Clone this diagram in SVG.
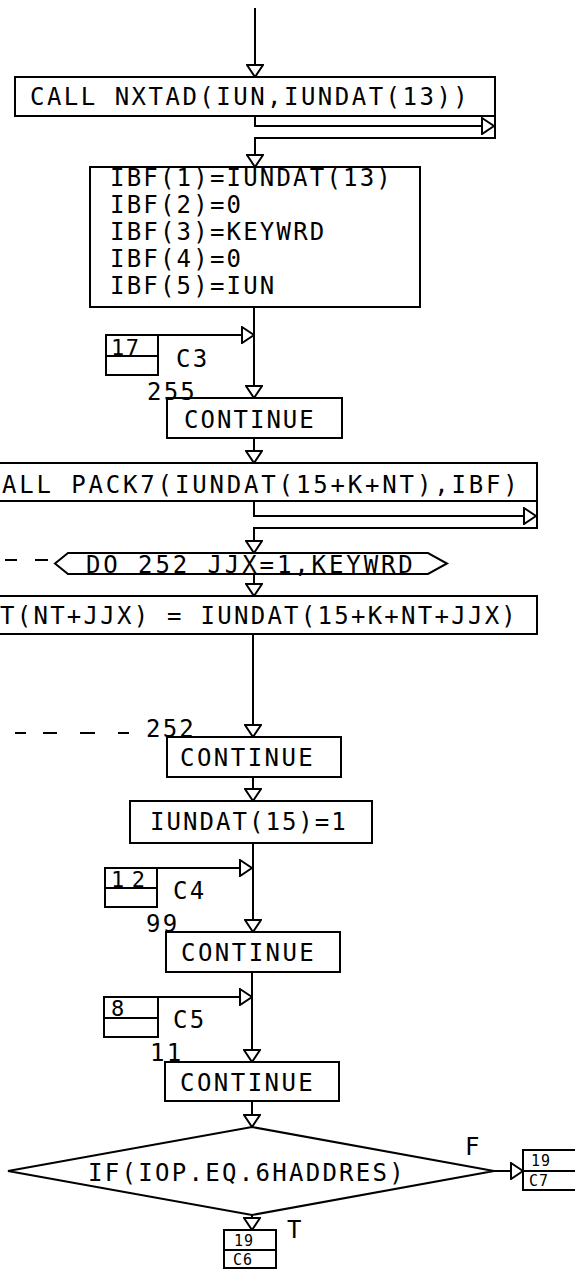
<svg xmlns="http://www.w3.org/2000/svg" width="575" height="1272" viewBox="0 0 575 1272">
<style>
.b{fill:#fff;stroke:#000;stroke-width:2}
.l{fill:none;stroke:#000;stroke-width:2}
.a{fill:none;stroke:#000;stroke-width:2;marker-end:url(#ah)}
.d{fill:none;stroke:#000;stroke-width:2}
text{font-family:"DejaVu Sans Mono","Liberation Mono",monospace;font-size:24px;fill:#000;letter-spacing:2.2px}
.s{font-size:22px;letter-spacing:2px}
.t{font-size:15px;letter-spacing:1px}
</style>
<defs>
<marker id="ah" viewBox="0 0 14 18" refX="13" refY="9" markerWidth="14" markerHeight="18" markerUnits="userSpaceOnUse" orient="auto">
<path d="M1,1 L13,9 L1,17 Z" fill="#fff" stroke="#000" stroke-width="2"/>
</marker>
</defs>
<rect width="575" height="1272" fill="#fff"/>
<g id="connectors">
<path class="a" d="M255,8 V77"/>
<path class="a" d="M255,116 V126 H494"/>
<path class="a" d="M495,116 V138 H255 V167"/>
<path class="a" d="M158,335 H254"/>
<path class="a" d="M254,307 V398"/>
<path class="a" d="M254,438 V463"/>
<path class="a" d="M254,501 V516 H536"/>
<path class="a" d="M537,501 V528 H254 V553"/>
<path class="d" d="M5,560 H17 M35,560 H48"/>
<path class="a" d="M254,574 V596"/>
<path class="a" d="M253,634 V737"/>
<path class="d" d="M15,733 H26 M43,733 H57 M80,733 H95 M118,733 H129"/>
<path class="a" d="M253,777 V801"/>
<path class="a" d="M157,868 H252"/>
<path class="a" d="M253,843 V932"/>
<path class="a" d="M158,997 H252"/>
<path class="a" d="M252,972 V1062"/>
<path class="a" d="M252,1101 V1127"/>
<path class="a" d="M494,1171 H523"/>
<path class="a" d="M252,1215 V1230"/>
</g>
<g id="n_nxtad">
<rect class="b" x="15" y="77" width="480" height="39"/>
<text x="30" y="105" textLength="440" lengthAdjust="spacing">CALL NXTAD(IUN,IUNDAT(13))</text>
</g>
<g id="n_ibf">
<rect class="b" x="90" y="167" width="330" height="140"/>
<text x="110" y="186" textLength="283" lengthAdjust="spacing">IBF(1)=IUNDAT(13)</text>
<text x="110" y="213">IBF(2)=0</text>
<text x="110" y="240">IBF(3)=KEYWRD</text>
<text x="110" y="267">IBF(4)=0</text>
<text x="110" y="294">IBF(5)=IUN</text>
</g>
<g id="n_c3">
<rect class="b" x="106" y="335" width="52" height="40"/>
<line class="l" x1="106" y1="356" x2="158" y2="356"/>
<text class="s" x="111" y="355" textLength="30" lengthAdjust="spacing">17</text>
<text x="176" y="367">C3</text>
</g>
<g id="n_cont255">
<rect class="b" x="167" y="398" width="175" height="40"/>
<text x="147" y="400">255</text>
<text x="184" y="428" textLength="132" lengthAdjust="spacing">CONTINUE</text>
</g>
<g id="n_pack7">
<rect class="b" x="-5" y="463" width="542" height="38"/>
<text x="2" y="493" textLength="518" lengthAdjust="spacing">ALL PACK7(IUNDAT(15+K+NT),IBF)</text>
</g>
<g id="n_do">
<polygon class="b" points="55,563.5 68,553 428,553 447,563.5 428,574 68,574"/>
<text x="86" y="573" textLength="329" lengthAdjust="spacing">DO 252 JJX=1,KEYWRD</text>
</g>
<g id="n_assign">
<rect class="b" x="-5" y="596" width="542" height="38"/>
<text x="0" y="624" textLength="518" lengthAdjust="spacing">T(NT+JJX) = IUNDAT(15+K+NT+JJX)</text>
</g>
<g id="n_cont252">
<rect class="b" x="167" y="737" width="174" height="40"/>
<text x="146" y="737">252</text>
<text x="180" y="766" textLength="135" lengthAdjust="spacing">CONTINUE</text>
</g>
<g id="n_iundat">
<rect class="b" x="130" y="801" width="242" height="42"/>
<text x="150" y="830" textLength="198" lengthAdjust="spacing">IUNDAT(15)=1</text>
</g>
<g id="n_c4">
<rect class="b" x="105" y="868" width="52" height="39"/>
<line class="l" x1="105" y1="888" x2="157" y2="888"/>
<text class="s" x="111" y="887" textLength="36" lengthAdjust="spacing">12</text>
<text x="173" y="899">C4</text>
</g>
<g id="n_cont99">
<rect class="b" x="166" y="932" width="174" height="40"/>
<text x="146" y="932">99</text>
<text x="181" y="961" textLength="135" lengthAdjust="spacing">CONTINUE</text>
</g>
<g id="n_c5">
<rect class="b" x="104" y="997" width="54" height="40"/>
<line class="l" x1="104" y1="1018" x2="158" y2="1018"/>
<text class="s" x="111" y="1016">8</text>
<text x="173" y="1028">C5</text>
</g>
<g id="n_cont11">
<rect class="b" x="165" y="1062" width="174" height="39"/>
<text x="150" y="1061">11</text>
<text x="180" y="1091" textLength="135" lengthAdjust="spacing">CONTINUE</text>
</g>
<g id="n_if">
<polygon class="b" points="252,1127 494,1171 252,1215 8,1171"/>
<text x="88" y="1181" textLength="318" lengthAdjust="spacing">IF(IOP.EQ.6HADDRES)</text>
<text x="465" y="1155">F</text>
<text x="287" y="1238">T</text>
</g>
<g id="n_c7">
<rect class="b" x="523" y="1150" width="60" height="40"/>
<line class="l" x1="523" y1="1171" x2="583" y2="1171"/>
<text class="t" x="531" y="1166">19</text>
<text class="t" x="529" y="1186">C7</text>
</g>
<g id="n_c6">
<rect class="b" x="224" y="1230" width="52" height="38"/>
<line class="l" x1="224" y1="1250" x2="276" y2="1250"/>
<text class="t" x="234" y="1246">19</text>
<text class="t" x="233" y="1265">C6</text>
</g>
</svg>
